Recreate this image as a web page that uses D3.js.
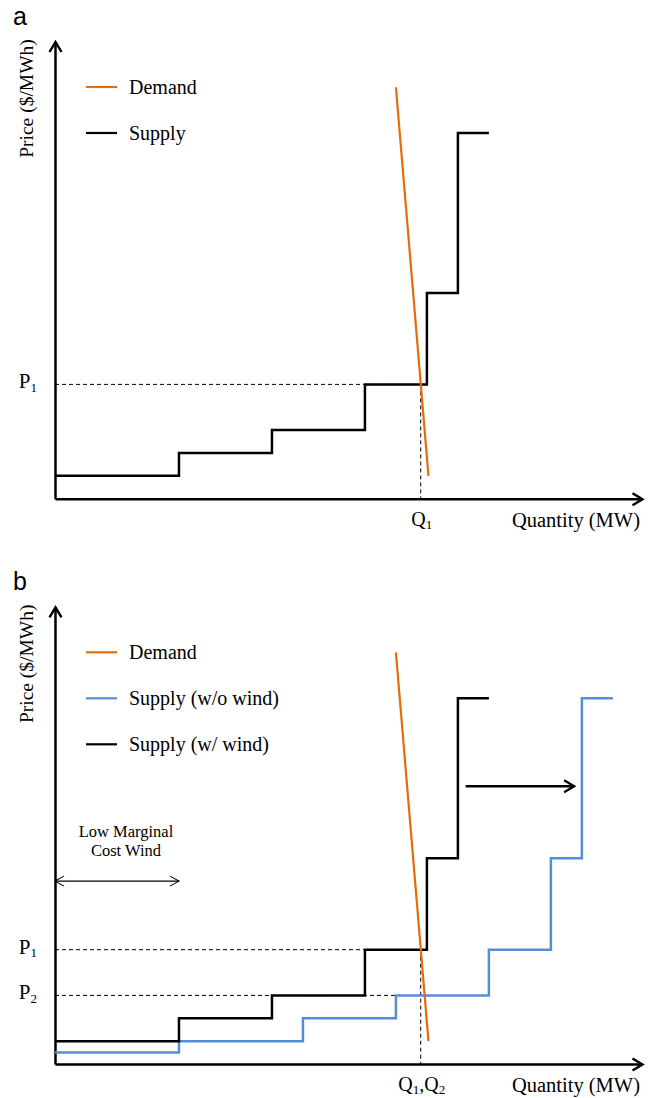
<!DOCTYPE html>
<html>
<head>
<meta charset="utf-8">
<script src="https://cdn.jsdelivr.net/npm/d3@7"></script>
<style>
  body { margin: 0; background: #fff; }
  text { font-family: "Liberation Serif", "Times New Roman", serif; fill: #000; }
</style>
</head>
<body>
<svg id="chart" width="650" height="1098"></svg>
<script>
// supply stacks: quantity breakpoints and the price of each block
const supplyWindQ = [0, 4, 7, 10, 12, 13, 14];
const supplyWindP = [2, 4, 6, 10, 18, 32];
const supplyNoWindQ = [0, 4, 8, 11, 14, 16, 17, 18];
const supplyNoWindP = [1, 2, 4, 6, 10, 18, 32];

// demand is almost vertical
const demandQ = [11.0, 12.05];
const demandP = [36, 2];

// clearing points
const clearQ = 11.8;
const priceP1 = 10;
const priceP2 = 6;

// annotations in panel b
const windArrowQ = [0, 4];
const windArrowP = 16;
const shiftArrowQ = [13.25, 16.75];
const shiftArrowP = 24.3;

const legendA = [{ name: "Demand", color: "#e46c0a" }, { name: "Supply", color: "#000" }];
const legendB = [
  { name: "Demand", color: "#e46c0a" },
  { name: "Supply (w/o wind)", color: "#558ed5" },
  { name: "Supply (w/ wind)", color: "#000" }
];

const svg = d3.select("#chart");

const x = d3.scaleLinear().domain([0, 18.94]).range([55, 642]);
const y = d3.scaleLinear().domain([0, 40]).range([498.7, 41.5]);

// markers for arrow heads
const defs = svg.append("defs");
let addHead = (id, w, len, half) => {
  defs.append("marker")
    .attr("id", id)
    .attr("markerUnits", "userSpaceOnUse")
    .attr("viewBox", `-2 -2 ${len + 4} ${half * 2 + 4}`)
    .attr("refX", len).attr("refY", half)
    .attr("markerWidth", len + 4).attr("markerHeight", half * 2 + 4)
    .attr("orient", "auto-start-reverse")
    .append("path")
    .attr("d", `M0,0L${len},${half}L0,${half * 2}`)
    .attr("fill", "none")
    .attr("stroke", "#000")
    .attr("stroke-width", w);
};
addHead("axisHead", 2.4, 10, 6);
addHead("thinHead", 1.1, 9, 5);
addHead("shiftHead", 2.2, 10, 6);

let toSteps = (qs, ps) => ps.map((p, i) => ({ q: qs[i], p: p }))
  .concat([{ q: qs[qs.length - 1], p: ps[ps.length - 1] }]);

const stepLine = d3.line().x(d => x(d.q)).y(d => y(d.p)).curve(d3.curveStepAfter);
const straight = d3.line().x(d => x(d.q)).y(d => y(d.p));

let sub = (sel, parts) => {
  // parts: [main, subscript, main, subscript...]
  parts.forEach((t, i) => {
    const isSub = i % 2 === 1;
    sel.append("tspan")
      .attr("font-size", isSub ? "13px" : null)
      .attr("dy", i === 0 ? null : (isSub ? 3.5 : -3.5))
      .text(t);
  });
};

let drawPanel = (g, letter, legend, qLabel) => {
  g.append("text")
    .attr("x", 13).attr("y", 25)
    .style("font-family", '"Liberation Sans", Arial, sans-serif')
    .style("font-size", "25px")
    .text(letter);

  // axes (no ticks, only arrowed domains)
  const xAxis = g.append("g")
    .attr("transform", `translate(0,${y(0)})`)
    .call(d3.axisBottom(x).tickValues([]).tickSizeOuter(0));
  xAxis.select(".domain").attr("stroke-width", 2.5).attr("marker-end", "url(#axisHead)");

  const yAxis = g.append("g")
    .attr("transform", `translate(${x(0)},0)`)
    .call(d3.axisLeft(y).tickValues([]).tickSizeOuter(0));
  yAxis.select(".domain").attr("stroke-width", 2.5).attr("marker-end", "url(#axisHead)");

  g.append("text")
    .attr("transform", `translate(32.5,98.5) rotate(-90)`)
    .attr("text-anchor", "middle")
    .style("font-size", "19.5px")
    .text("Price ($/MWh)");

  g.append("text")
    .attr("x", 640).attr("y", y(0) + 28)
    .attr("text-anchor", "end")
    .style("font-size", "20.5px")
    .text("Quantity (MW)");

  const ql = g.append("text")
    .attr("x", x(clearQ) + 1).attr("y", y(0) + 27)
    .attr("text-anchor", "middle")
    .style("font-size", "20px");
  sub(ql, qLabel);

  // legend
  legend.forEach((d, i) => {
    const ly = 87 + i * 46;
    g.append("line")
      .attr("x1", 86).attr("x2", 117)
      .attr("y1", ly).attr("y2", ly)
      .attr("stroke", d.color).attr("stroke-width", 2.2);
    g.append("text")
      .attr("x", 129).attr("y", ly).attr("dy", "0.35em")
      .style("font-size", "20px")
      .text(d.name);
  });
};

let priceLabel = (g, p, n) => {
  const t = g.append("text")
    .attr("x", 37).attr("y", y(p) + 4)
    .attr("text-anchor", "end")
    .style("font-size", "21px");
  sub(t, ["P", n]);
};

let dashed = (g, pts) => {
  g.append("path")
    .attr("d", straight(pts))
    .attr("fill", "none")
    .attr("stroke", "#000")
    .attr("stroke-width", 1)
    .attr("stroke-dasharray", "4,3");
};

// ---------- panel a ----------
const ga = svg.append("g");
drawPanel(ga, "a", legendA, ["Q", "1"]);
dashed(ga, [{ q: 0, p: priceP1 }, { q: clearQ, p: priceP1 }]);
dashed(ga, [{ q: clearQ, p: priceP1 }, { q: clearQ, p: 0 }]);
priceLabel(ga, priceP1, "1");

ga.append("path")
  .attr("d", stepLine(toSteps(supplyWindQ, supplyWindP)))
  .attr("fill", "none").attr("stroke", "#000").attr("stroke-width", 2.5);

ga.append("path")
  .attr("d", straight(demandQ.map((q, i) => ({ q: q, p: demandP[i] }))))
  .attr("fill", "none").attr("stroke", "#e46c0a").attr("stroke-width", 2.2);

// ---------- panel b ----------
const gb = svg.append("g").attr("transform", "translate(0,565.3)");
drawPanel(gb, "b", legendB, ["Q", "1", ",Q", "2"]);
dashed(gb, [{ q: 0, p: priceP1 }, { q: clearQ, p: priceP1 }]);
dashed(gb, [{ q: 0, p: priceP2 }, { q: supplyNoWindQ[3], p: priceP2 }]);
dashed(gb, [{ q: clearQ, p: priceP1 }, { q: clearQ, p: 0 }]);
priceLabel(gb, priceP1, "1");
priceLabel(gb, priceP2, "2");

gb.append("path")
  .attr("d", stepLine(toSteps(supplyNoWindQ, supplyNoWindP)))
  .attr("fill", "none").attr("stroke", "#558ed5").attr("stroke-width", 2.5);

gb.append("path")
  .attr("d", stepLine(toSteps(supplyWindQ, supplyWindP)))
  .attr("fill", "none").attr("stroke", "#000").attr("stroke-width", 2.5);

gb.append("path")
  .attr("d", straight(demandQ.map((q, i) => ({ q: q, p: demandP[i] }))))
  .attr("fill", "none").attr("stroke", "#e46c0a").attr("stroke-width", 2.2);

// shift arrow between the two stacks
gb.append("path")
  .attr("d", straight(shiftArrowQ.map(q => ({ q: q, p: shiftArrowP }))))
  .attr("fill", "none").attr("stroke", "#000").attr("stroke-width", 2.4)
  .attr("marker-end", "url(#shiftHead)");

// low marginal cost wind span
gb.append("path")
  .attr("d", straight(windArrowQ.map(q => ({ q: q, p: windArrowP }))))
  .attr("fill", "none").attr("stroke", "#000").attr("stroke-width", 1.1)
  .attr("marker-start", "url(#thinHead)")
  .attr("marker-end", "url(#thinHead)");

const windText = gb.append("text")
  .attr("text-anchor", "middle")
  .style("font-size", "16.5px");
windText.append("tspan").attr("x", x(2.29)).attr("y", y(windArrowP) - 44).text("Low Marginal");
windText.append("tspan").attr("x", x(2.29)).attr("y", y(windArrowP) - 25).text("Cost Wind");
</script>
</body>
</html>
